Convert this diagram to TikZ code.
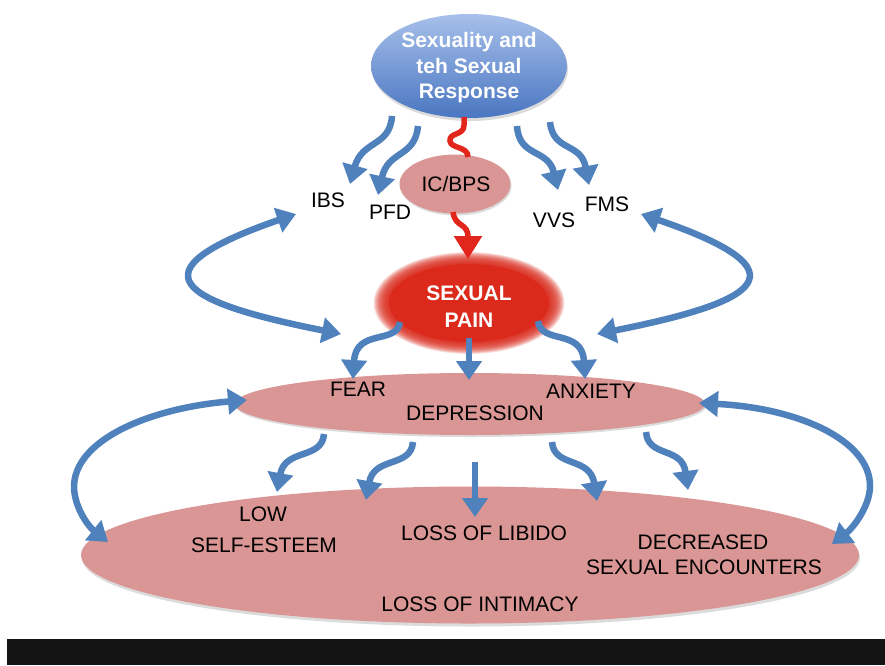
\documentclass[tikz,border=0pt]{standalone}
\usepackage{fontspec}
\setmainfont{Liberation Sans}
\usetikzlibrary{shapes.geometric,arrows.meta}
\definecolor{ablue}{HTML}{4F81BD}
\definecolor{pinkf}{HTML}{D99694}
\definecolor{painred}{HTML}{DB2A1C}
\definecolor{linered}{HTML}{E2261B}
\definecolor{topA}{HTML}{A7C0EA}
\definecolor{topB}{HTML}{4A76C1}
\definecolor{barblack}{HTML}{141414}
\tikzset{
  lbl/.style={font=\fontsize{21}{24}\selectfont, text=black, inner sep=0pt, align=center},
  btip/.tip={Triangle[width=25pt,length=19pt]},
  barrow/.style={draw=ablue, line width=6.5pt, -btip},
  dbarrow/.style={draw=ablue, line width=6.5pt, btip-btip},
  pinkell/.style={ellipse, fill=pinkf, inner sep=0pt},
  shadowell/.style={ellipse, fill=black!14, inner sep=0pt},
  redline/.style={draw=linered, line width=5.5pt},
}
\begin{document}
\begin{tikzpicture}[x=1pt,y=-1pt]
\useasboundingbox (0,0) rectangle (885,665);
\fill[white] (0,0) rectangle (885,665);
\fill[barblack] (7,639) rectangle (885,665);

% ---- bottom ellipse: loss of intimacy
\node[shadowell, minimum width=778pt, minimum height=137pt] at (471,558) {};
\node[pinkell, minimum width=778pt, minimum height=137pt] (intim) at (470,555) {};
\node[lbl] (low) at (263,514) {LOW};
\node[lbl] (self) at (264,545) {SELF-ESTEEM};
\node[lbl] (libido) at (484,533) {LOSS OF LIBIDO};
\node[lbl] (decr) at (703,542) {DECREASED};
\node[lbl] (enc) at (704,567) {SEXUAL ENCOUNTERS};
\node[lbl] (intimtxt) at (480,604) {LOSS OF INTIMACY};

% ---- middle ellipse
\node[shadowell, minimum width=470pt, minimum height=62pt] at (471,406) {};
\node[pinkell, minimum width=470pt, minimum height=62pt] (mid) at (470,404) {};
\node[lbl] (fear) at (358,389) {FEAR};
\node[lbl] (depr) at (475,413) {DEPRESSION};
\node[lbl] (anx) at (591,391) {ANXIETY};

% ---- sexual pain glow (soft edge)
\fill[painred] (469,303) ellipse (80pt and 39pt);
\foreach \k in {1,...,14}{
  \fill[painred, opacity=0.16] (469,303) ellipse ({80pt+1.1pt*\k} and {39pt+0.85pt*\k});
}
\node[inner sep=0pt, minimum width=190pt, minimum height=96pt, ellipse] (pain) at (469,303) {};
\node[font=\bfseries\fontsize{21}{27}\selectfont, text=white, align=center, inner sep=0pt] (paintxt) at (469,307) {SEXUAL\\PAIN};

% ---- top ellipse
\node[shadowell, minimum width=196pt, minimum height=104pt] at (470,69) {};
\node[ellipse, inner sep=0pt, minimum width=196pt, minimum height=104pt,
      top color=topA, bottom color=topB] (top) at (469,66) {};
\node[font=\bfseries\fontsize{21}{25.5}\selectfont, text=white, align=center, inner sep=0pt] (toptxt) at (469,68) {Sexuality and\\teh Sexual\\Response};

% ---- IC/BPS
\node[shadowell, minimum width=111pt, minimum height=59pt] at (456,186) {};
\node[pinkell, minimum width=111pt, minimum height=59pt] (ic) at (455,184) {};
\node[lbl] (ictxt) at (456,184) {IC/BPS};

% ---- labels
\node[lbl] (ibs) at (328,200) {IBS};
\node[lbl] (pfd) at (390,212) {PFD};
\node[lbl] (vvs) at (554,220) {VVS};
\node[lbl] (fms) at (607,204) {FMS};

% ---- coordinates for connector ends
\coordinate (t1) at (392,116);
\coordinate (t2) at (418,126);
\coordinate (t3) at (517,126);
\coordinate (t4) at (550,122);
\coordinate (aibs) at (350,184);
\coordinate (apfd) at (378,195);
\coordinate (avvs) at (558,190);
\coordinate (afms) at (589,185);

% top -> labels
\draw[barrow] (t1) .. controls (390,147) and (362,140) .. (aibs);
\draw[barrow] (t2) .. controls (415,158) and (388,150) .. (apfd);
\draw[barrow] (t3) .. controls (519,158) and (548,148) .. (avvs);
\draw[barrow] (t4) .. controls (553,152) and (581,142) .. (afms);

% red squiggle top -> IC/BPS
\coordinate (r0) at (464,117);
\coordinate (r1) at (468,157);
\draw[redline] (r0) -- (464,125) .. controls (464,136) and (449,132) .. (450,141)
      .. controls (451,149) and (468,146) .. (r1);

% red arrow IC/BPS -> pain
\coordinate (r2) at (453,212);
\coordinate (r3) at (468,259);
\draw[redline, -{Triangle[width=27pt,length=23pt]}] (r2) .. controls (455,228) and (468,222) .. (r3);

% big side double arrows (upper)
\coordinate (lu1) at (296,214);
\coordinate (lu2) at (341,334);
\coordinate (ru1) at (641,214);
\coordinate (ru2) at (597,334);
\draw[dbarrow] (lu2) .. controls (180,302) and (128,272) .. (lu1);
\draw[dbarrow] (ru2) .. controls (758,302) and (810,272) .. (ru1);

% pain -> middle
\coordinate (p1) at (400,322);
\coordinate (p2) at (469,338);
\coordinate (p3) at (538,321);
\coordinate (m1) at (353,379);
\coordinate (m2) at (469,380);
\coordinate (m3) at (585,379);
\draw[barrow] (p1) .. controls (397,345) and (356,328) .. (m1);
\draw[barrow] (p2) -- (m2);
\draw[barrow] (p3) .. controls (541,345) and (582,328) .. (m3);

% big side double arrows (lower)
\coordinate (ll1) at (247,400);
\coordinate (ll2) at (108,542);
\coordinate (rl1) at (699,403);
\coordinate (rl2) at (832,544);
\draw[dbarrow] (ll1) .. controls (150,408) and (73,440) .. (74,488)
      .. controls (75,508) and (88,526) .. (ll2);
\draw[dbarrow] (rl1) .. controls (798,408) and (870,440) .. (870,486)
      .. controls (870,506) and (853,528) .. (rl2);

% middle -> bottom
\coordinate (d1) at (324,434);
\coordinate (d2) at (413,442);
\coordinate (d3) at (475,462);
\coordinate (d4) at (552,442);
\coordinate (d5) at (646,432);
\coordinate (e1) at (277,492);
\coordinate (e2) at (366,500);
\coordinate (e3) at (475,517);
\coordinate (e4) at (597,501);
\coordinate (e5) at (688,490);
\draw[barrow] (d1) .. controls (322,460) and (285,448) .. (e1);
\draw[barrow] (d2) .. controls (411,468) and (374,456) .. (e2);
\draw[barrow] (d3) -- (e3);
\draw[barrow] (d4) .. controls (554,468) and (590,456) .. (e4);
\draw[barrow] (d5) .. controls (648,458) and (682,446) .. (e5);
\end{tikzpicture}
\end{document}
